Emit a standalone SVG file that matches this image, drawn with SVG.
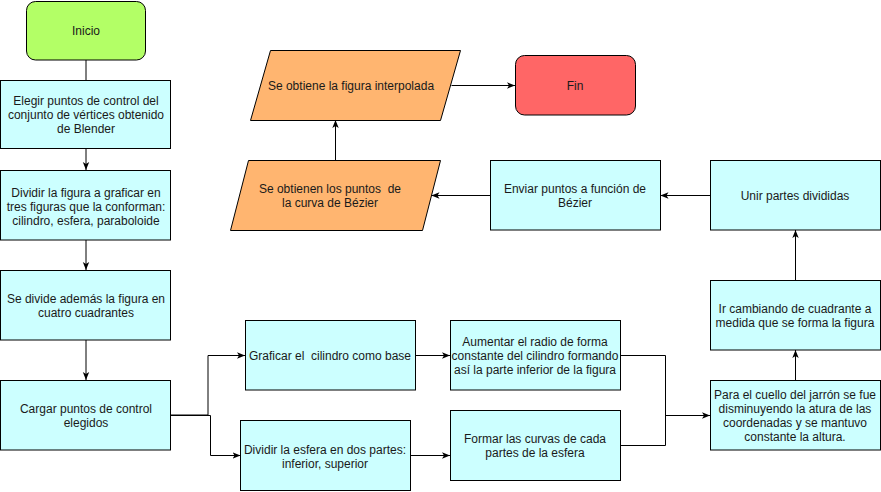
<svg xmlns="http://www.w3.org/2000/svg" width="881" height="492" viewBox="0 0 881 492">
<defs>
<marker id="arr" viewBox="0 0 10 10" markerUnits="userSpaceOnUse" markerWidth="8" markerHeight="8" refX="10" refY="5" orient="auto">
<path d="M0,1 L10,5 L0,9 L2.5,5 Z" fill="#000"/>
</marker>
</defs>
<style>
text{font-family:"Liberation Sans",Arial,sans-serif;font-size:12px;fill:#1a1a1a;text-anchor:middle}
.p{fill:#CCFFFF;stroke:#000;stroke-width:1}
.io{fill:#FFB570;stroke:#000;stroke-width:1}
.e{fill:none;stroke:#000;stroke-width:1}
.a{marker-end:url(#arr)}
</style>
<rect width="881" height="492" fill="#fff"/>
<g id="edges">
<path class="e" d="M86,60 V80"/>
<path class="e a" d="M86,148 V170"/>
<path class="e a" d="M86,240 V270"/>
<path class="e a" d="M86,340 V380"/>
<path class="e a" d="M170,415 H208 V355.5 H245"/>
<path class="e a" d="M170,415.5 H210.5 V455.5 H240.5"/>
<path class="e a" d="M415.5,355.5 H450"/>
<path class="e a" d="M410.5,455.5 H450"/>
<path class="e" d="M620.5,355.5 H665.5 V445.5 H620.5"/>
<path class="e a" d="M665.5,415.5 H710"/>
<path class="e a" d="M795.5,380 V350"/>
<path class="e a" d="M795.5,280 V230"/>
<path class="e a" d="M710,195.5 H660.5"/>
<path class="e a" d="M490,195.5 H431.5"/>
<path class="e a" d="M335.5,160 V120"/>
<path class="e a" d="M451.5,85.5 H515"/>
</g>
<g id="inicio">
<rect x="26.5" y="1.5" width="119" height="58.5" rx="9" fill="#B3FF66" stroke="#000"/>
<text x="86" y="35">Inicio</text>
</g>
<g id="elegir">
<rect class="p" x="0.5" y="80.5" width="170" height="68"/>
<text x="86" y="105">Elegir puntos de control del</text>
<text x="86" y="119">conjunto de vértices obtenido</text>
<text x="86" y="133">de Blender</text>
</g>
<g id="dividir">
<rect class="p" x="0.5" y="170.5" width="170" height="69.5"/>
<text x="86" y="197">Dividir la figura a graficar en</text>
<text x="86" y="211">tres figuras que la conforman:</text>
<text x="86" y="225">cilindro, esfera, paraboloide</text>
</g>
<g id="cuadrantes">
<rect class="p" x="0.5" y="270.5" width="170" height="69.5"/>
<text x="86" y="303">Se divide además la figura en</text>
<text x="86" y="317">cuatro cuadrantes</text>
</g>
<g id="cargar">
<rect class="p" x="0.5" y="380.5" width="170" height="69.5"/>
<text x="86" y="413">Cargar puntos de control</text>
<text x="86" y="427">elegidos</text>
</g>
<g id="graficar">
<rect class="p" x="245.5" y="320.5" width="170" height="69.5"/>
<text x="330" y="360" xml:space="preserve">Graficar el  cilindro como base</text>
</g>
<g id="aumentar">
<rect class="p" x="450.5" y="320.5" width="170" height="69.5"/>
<text x="535" y="346">Aumentar el radio de forma</text>
<text x="535" y="360">constante del cilindro formando</text>
<text x="535" y="374">así la parte inferior de la figura</text>
</g>
<g id="esfera">
<rect class="p" x="240.5" y="420.5" width="170" height="70"/>
<text x="325" y="454">Dividir la esfera en dos partes:</text>
<text x="325" y="468">inferior, superior</text>
</g>
<g id="formar">
<rect class="p" x="450.5" y="410.5" width="170" height="70"/>
<text x="535" y="443">Formar las curvas de cada</text>
<text x="535" y="457">partes de la esfera</text>
</g>
<g id="cuello">
<rect class="p" x="710.5" y="380.5" width="170" height="69.5"/>
<text x="795" y="399">Para el cuello del jarrón se fue</text>
<text x="795" y="413">disminuyendo la atura de las</text>
<text x="795" y="427">coordenadas y se mantuvo</text>
<text x="795" y="441">constante la altura.</text>
</g>
<g id="cambiando">
<rect class="p" x="710.5" y="280.5" width="170" height="69.5"/>
<text x="795" y="313">Ir cambiando de cuadrante a</text>
<text x="795" y="327">medida que se forma la figura</text>
</g>
<g id="unir">
<rect class="p" x="710.5" y="160.5" width="170" height="69.5"/>
<text x="795" y="200">Unir partes divididas</text>
</g>
<g id="enviar">
<rect class="p" x="490.5" y="160.5" width="170" height="69.5"/>
<text x="575" y="193">Enviar puntos a función de</text>
<text x="575" y="207">Bézier</text>
</g>
<g id="puntos">
<polygon class="io" points="248.5,160.5 440.5,160.5 422.5,230.5 230.5,230.5"/>
<text x="330" y="193" xml:space="preserve">Se obtienen los puntos  de</text>
<text x="330" y="207">la curva de Bézier</text>
</g>
<g id="interpolada">
<polygon class="io" points="270.5,50.5 460.5,50.5 440.5,120.5 250.5,120.5"/>
<text x="351" y="90">Se obtiene la figura interpolada</text>
</g>
<g id="fin">
<rect x="515.5" y="55.5" width="120" height="59.5" rx="9" fill="#FF6666" stroke="#000"/>
<text x="575" y="90">Fin</text>
</g>
</svg>
